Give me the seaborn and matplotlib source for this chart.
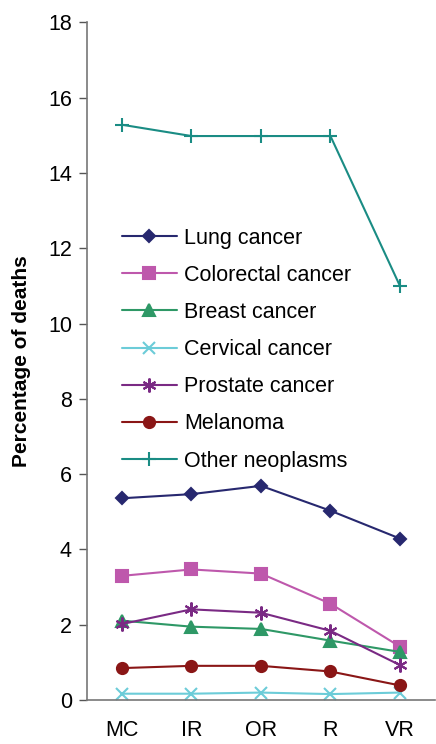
import numpy as np
import pandas as pd
import matplotlib.pyplot as plt
import seaborn as sns

categories = ["MC", "IR", "OR", "R", "VR"]
lung = [5.36, 5.47, 5.69, 5.03, 4.29]
colorectal = [3.30, 3.47, 3.36, 2.56, 1.42]
breast = [2.11, 1.95, 1.89, 1.58, 1.28]
cervical = [0.17, 0.17, 0.20, 0.16, 0.20]
prostate = [2.02, 2.41, 2.32, 1.84, 0.93]
melanoma = [0.85, 0.91, 0.91, 0.76, 0.39]
other = [15.28, 14.98, 14.98, 14.98, 11.0]

series_names = ["Lung cancer", "Colorectal cancer", "Breast cancer",
                "Cervical cancer", "Prostate cancer", "Melanoma",
                "Other neoplasms"]
series_values = [lung, colorectal, breast, cervical, prostate, melanoma, other]

colors = ["#27286F", "#BE58AC", "#2E9866", "#6CCCD8", "#7A2A84", "#8A1616", "#1A8C84"]
markers = ["D", "s", "^", "x", (6, 2, 0), "o", "+"]
msizes = [6.5, 8, 8, 9, 10, 8, 10]

rows = []
for name, vals in zip(series_names, series_values):
    for cat, v in zip(categories, vals):
        rows.append({"region": cat, "series": name, "value": v})
df = pd.DataFrame(rows)

sns.set_style("white", {"text.color": "black", "xtick.color": "black",
                        "ytick.color": "black", "axes.labelcolor": "black"})
plt.rcParams["font.family"] = ["Liberation Sans", "DejaVu Sans"]

fig = plt.figure(figsize=(4.36, 7.44), dpi=100)
ax = fig.add_axes([0.2, 0.059, 0.797, 0.911])

for name, col, mk, ms in zip(series_names, colors, markers, msizes):
    sub = df[df["series"] == name]
    sns.lineplot(data=sub, x="region", y="value", color=col, marker=mk,
                 markersize=ms, markeredgecolor=col, markeredgewidth=1.5,
                 linewidth=1.5, label=name, ax=ax, sort=False)

ax.set_ylim(0, 18)
ax.set_yticks(np.arange(0, 19, 2))
ax.set_xlim(-0.5, len(categories) - 0.5)
ax.set_xticks(range(len(categories)))
ax.set_xticklabels(categories)
ax.set_xticks(np.arange(-0.5, len(categories), 1), minor=True)
ax.tick_params(axis="x", which="major", length=0, pad=14, labelsize=15.5, labelcolor="black")
ax.tick_params(axis="x", which="minor", length=6, width=1, color="#555555", direction="out")
ax.tick_params(axis="y", length=6, width=1, color="#555555", direction="out",
               labelsize=15.5, left=True, pad=5, labelcolor="black")

for s in ["top", "right"]:
    ax.spines[s].set_visible(False)
for s in ["left", "bottom"]:
    ax.spines[s].set_color("#777777")
    ax.spines[s].set_linewidth(1.2)

ax.set_xlabel("")
ax.set_ylabel("Percentage of deaths", fontsize=15, fontweight="bold", labelpad=12,
              color="black")

leg = ax.legend(loc="upper left", bbox_to_anchor=(0.10, 0.697), frameon=False,
                fontsize=15.5, handlelength=2.55, labelspacing=0.75, handletextpad=0.35,
                borderpad=0, borderaxespad=0)
for t in leg.get_texts():
    t.set_color("black")

fig.savefig("out.png", dpi=100)
